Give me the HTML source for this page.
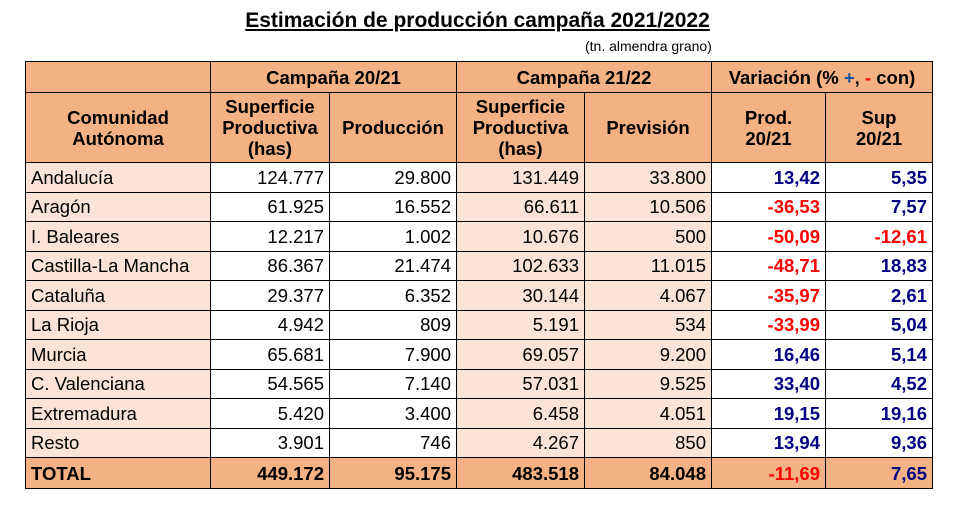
<!DOCTYPE html>
<html><head><meta charset="utf-8"><style>
body{margin:0;width:955px;height:516px;background:#fff;font-family:"Liberation Sans",Arial,sans-serif;position:relative;overflow:hidden}
.t{position:absolute;left:0;width:955px;top:9px;text-align:center;font-weight:bold;font-size:21px;text-decoration:underline;color:#000}
.s{position:absolute;left:585px;top:38px;font-size:14px;color:#000}
table{position:absolute;left:25px;top:61px;border-collapse:collapse;table-layout:fixed}
td{border:1.5px solid #000;padding:0 5px;font-size:18.5px;color:#000;white-space:nowrap;line-height:21px}
tr{height:29.5px}
.h{background:#F4B183;font-weight:bold;text-align:center}
.l{background:#FBE4D5}
.r{text-align:right}
.b{color:#000080;font-weight:bold;text-align:right}
.n{color:#FF0000;font-weight:bold;text-align:right}
.tot td{font-weight:bold;background:#F4B183}
</style></head><body>
<div class="t">Estimación de producción campaña 2021/2022</div>
<div class="s">(tn. almendra grano)</div>
<table>
<colgroup><col style="width:185px"><col style="width:119px"><col style="width:127px"><col style="width:128px"><col style="width:127px"><col style="width:114px"><col style="width:107px"></colgroup>
<tr style="height:31px"><td class="h"></td><td class="h" colspan="2">Campaña 20/21</td><td class="h" colspan="2">Campaña 21/22</td><td class="h" colspan="2">Variación (% <span style="color:#1F4E9A">+</span>, <span style="color:#f00">-</span> con)</td></tr>
<tr style="height:70px"><td class="h">Comunidad<br>Autónoma</td><td class="h">Superficie<br>Productiva<br>(has)</td><td class="h">Producción</td><td class="h">Superficie<br>Productiva<br>(has)</td><td class="h">Previsión</td><td class="h">Prod.<br>20/21</td><td class="h">Sup<br>20/21</td></tr>
<tr><td class="l">Andalucía</td><td class="r">124.777</td><td class="r">29.800</td><td class="r l">131.449</td><td class="r l">33.800</td><td class="b">13,42</td><td class="b">5,35</td></tr>
<tr><td class="l">Aragón</td><td class="r">61.925</td><td class="r">16.552</td><td class="r l">66.611</td><td class="r l">10.506</td><td class="n">-36,53</td><td class="b">7,57</td></tr>
<tr><td class="l">I. Baleares</td><td class="r">12.217</td><td class="r">1.002</td><td class="r l">10.676</td><td class="r l">500</td><td class="n">-50,09</td><td class="n">-12,61</td></tr>
<tr><td class="l">Castilla-La Mancha</td><td class="r">86.367</td><td class="r">21.474</td><td class="r l">102.633</td><td class="r l">11.015</td><td class="n">-48,71</td><td class="b">18,83</td></tr>
<tr><td class="l">Cataluña</td><td class="r">29.377</td><td class="r">6.352</td><td class="r l">30.144</td><td class="r l">4.067</td><td class="n">-35,97</td><td class="b">2,61</td></tr>
<tr><td class="l">La Rioja</td><td class="r">4.942</td><td class="r">809</td><td class="r l">5.191</td><td class="r l">534</td><td class="n">-33,99</td><td class="b">5,04</td></tr>
<tr><td class="l">Murcia</td><td class="r">65.681</td><td class="r">7.900</td><td class="r l">69.057</td><td class="r l">9.200</td><td class="b">16,46</td><td class="b">5,14</td></tr>
<tr><td class="l">C. Valenciana</td><td class="r">54.565</td><td class="r">7.140</td><td class="r l">57.031</td><td class="r l">9.525</td><td class="b">33,40</td><td class="b">4,52</td></tr>
<tr><td class="l">Extremadura</td><td class="r">5.420</td><td class="r">3.400</td><td class="r l">6.458</td><td class="r l">4.051</td><td class="b">19,15</td><td class="b">19,16</td></tr>
<tr><td class="l">Resto</td><td class="r">3.901</td><td class="r">746</td><td class="r l">4.267</td><td class="r l">850</td><td class="b">13,94</td><td class="b">9,36</td></tr>
<tr class="tot" style="height:31px"><td>TOTAL</td><td class="r">449.172</td><td class="r">95.175</td><td class="r">483.518</td><td class="r">84.048</td><td class="n">-11,69</td><td class="b">7,65</td></tr>
</table>
</body></html>
